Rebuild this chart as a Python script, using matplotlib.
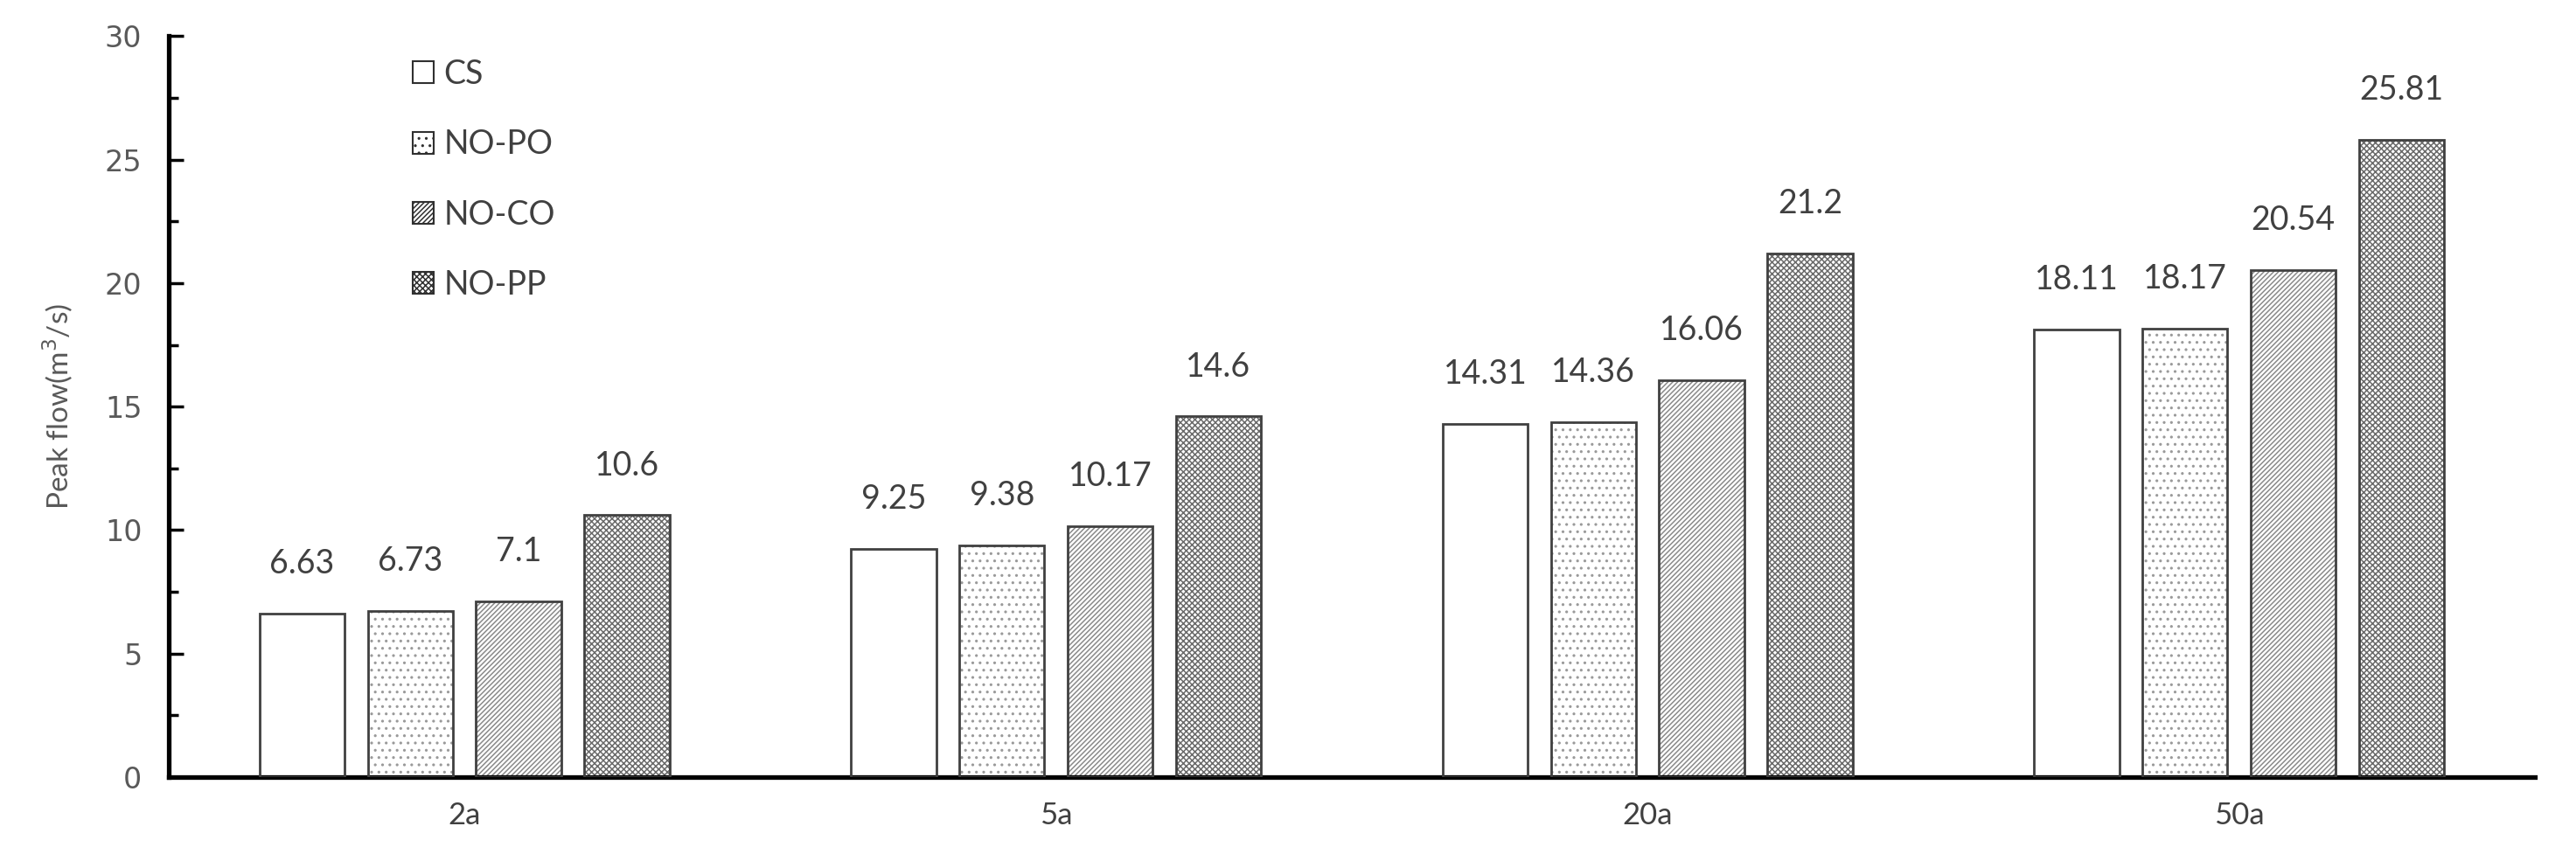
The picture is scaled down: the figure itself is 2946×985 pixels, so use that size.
import matplotlib
matplotlib.use("Agg")
import matplotlib.pyplot as plt
import numpy as np
from matplotlib.ticker import MultipleLocator
from matplotlib.patches import Patch

categories = ["2a", "5a", "20a", "50a"]
series_names = ["CS", "NO-PO", "NO-CO", "NO-PP"]
cs = [6.63, 9.25, 14.31, 18.11]
no_po = [6.73, 9.38, 14.36, 18.17]
no_co = [7.1, 10.17, 16.06, 20.54]
no_pp = [10.6, 14.6, 21.2, 25.81]
values = [cs, no_po, no_co, no_pp]
labels_txt = [["6.63", "9.25", "14.31", "18.11"],
              ["6.73", "9.38", "14.36", "18.17"],
              ["7.1", "10.17", "16.06", "20.54"],
              ["10.6", "14.6", "21.2", "25.81"]]

hatches = [None, "..", "//////", "xxxxx"]
hatch_colors = ["#404040", "#9a9a9a", "#8a8a8a", "#6a6a6a"]

plt.rcParams["font.family"] = ["Lato", "DejaVu Sans"]
plt.rcParams["hatch.linewidth"] = 1.1

fig = plt.figure(figsize=(29.46, 9.85), dpi=100)
ax = fig.add_axes([0.0655, 0.0975, 0.9185, 0.8605])

x = np.arange(len(categories))
w = 0.144
step = 0.183
for i, (name, vals) in enumerate(zip(series_names, values)):
    pos = x + (i - 1.5) * step
    if hatches[i]:
        ax.bar(pos, vals, w, color="white", edgecolor=hatch_colors[i],
               hatch=hatches[i], linewidth=0, zorder=2)
    ax.bar(pos, vals, w, facecolor="none", edgecolor="#404040",
           linewidth=2.0, zorder=3)
    for p, v, t in zip(pos, vals, labels_txt[i]):
        ax.annotate(t, (p, v), xytext=(0, 41), textcoords="offset points",
                    ha="center", va="center", fontsize=27, color="#404040")

handles = []
for i, name in enumerate(series_names):
    handles.append(Patch(facecolor="white", edgecolor="#303030",
                         hatch=hatches[i], linewidth=1.5, label=name))
leg = ax.legend(handles=handles, loc="upper left", bbox_to_anchor=(0.092, 1.005),
                frameon=False, fontsize=27, labelspacing=1.18,
                handlelength=0.65, handleheight=0.65, handletextpad=0.3,
                borderpad=0.3)
for t in leg.get_texts():
    t.set_color("#404040")

ax.set_xlim(-0.5, len(categories) - 0.5)
ax.set_ylim(0, 30)
ax.set_xticks(x)
ax.set_xticklabels(categories)
ax.yaxis.set_major_locator(MultipleLocator(5))
ax.yaxis.set_minor_locator(MultipleLocator(2.5))
ax.tick_params(axis="x", length=0, labelsize=25, labelcolor="#404040", pad=20)
ax.tick_params(axis="y", which="major", direction="in", length=12, width=2.5,
               labelsize=24, labelcolor="#595959", pad=22)
ax.tick_params(axis="y", which="minor", direction="in", length=8, width=2.5)
for lab in ax.get_yticklabels():
    lab.set_family(["DejaVu Sans"])
for s in ["top", "right"]:
    ax.spines[s].set_visible(False)
for s in ["left", "bottom"]:
    ax.spines[s].set_linewidth(3.8)
    ax.spines[s].set_color("black")

ax.set_ylabel("Peak flow(m$^3$/s)", fontsize=24, color="#595959", labelpad=24)

fig.savefig("out.png", dpi=100)
